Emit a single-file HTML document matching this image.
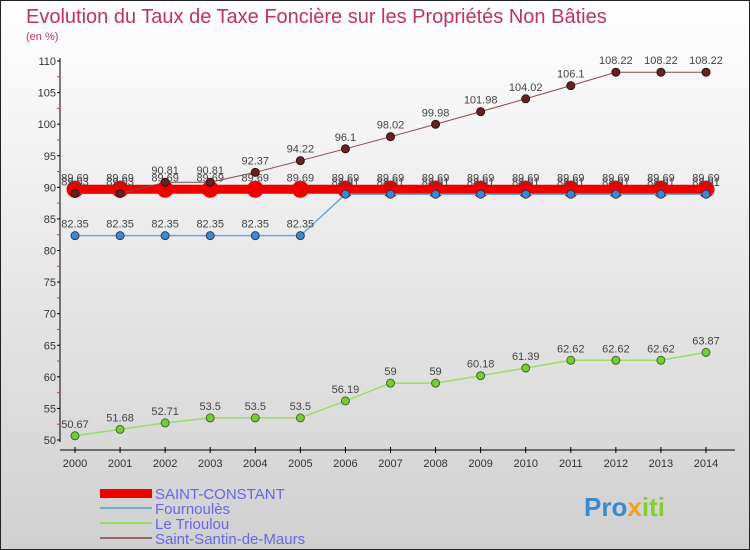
<!DOCTYPE html>
<html><head><meta charset="utf-8">
<style>
body{margin:0;width:750px;height:550px;overflow:hidden;font-family:"Liberation Sans",sans-serif;}
#wrap{position:absolute;left:0;top:0;width:748px;height:548px;border:1px solid #222;background:linear-gradient(#ffffff,#d0d0d0);}
</style></head><body>
<div id="wrap">
<svg id="chart" width="750" height="550" style="position:absolute;left:-1px;top:-1px">
<text x="26" y="23" font-size="20" fill="#c0306a">Evolution du Taux de Taxe Foncière sur les Propriétés Non Bâties</text>
<text x="26" y="40" font-size="11" fill="#c0306a">(en %)</text>
<g id="axes"></g><g id="series"></g>
<g>
<rect x="100" y="489" width="52" height="9" fill="#ee0000"/>
<text x="155" y="499" font-size="15" fill="#6666ee">SAINT-CONSTANT</text>
<rect x="100" y="507" width="52" height="2" fill="#7aaad0"/>
<text x="155" y="514" font-size="15" fill="#6666ee">Fournoulès</text>
<rect x="100" y="522" width="52" height="2" fill="#99dd66"/>
<text x="155" y="529" font-size="15" fill="#6666ee">Le Trioulou</text>
<rect x="100" y="537" width="52" height="2" fill="#996666"/>
<text x="155" y="544" font-size="15" fill="#6666ee">Saint-Santin-de-Maurs</text>
</g>
<g><text x="584" y="516" font-size="26" font-weight="bold" fill="#3a8ad0">Pro<tspan fill="#f0a020">x</tspan><tspan fill="#88cc33">iti</tspan></text></g>
</svg>
</div>
<script>
const years=[2000,2001,2002,2003,2004,2005,2006,2007,2008,2009,2010,2011,2012,2013,2014];
const yTicks=[50,55,60,65,70,75,80,85,90,95,100,105,110];
const saintConstant=[89.69,89.69,89.69,89.69,89.69,89.69,89.69,89.69,89.69,89.69,89.69,89.69,89.69,89.69,89.69];
const fournoules=[82.35,82.35,82.35,82.35,82.35,82.35,88.91,88.91,88.91,88.91,88.91,88.91,88.91,88.91,88.91];
const trioulou=[50.67,51.68,52.71,53.5,53.5,53.5,56.19,59,59,60.18,61.39,62.62,62.62,62.62,63.87];
const saintSantin=[89.03,89.03,90.81,90.81,92.37,94.22,96.1,98.02,99.98,101.98,104.02,106.1,108.22,108.22,108.22];
const NS="http://www.w3.org/2000/svg";
const X=i=>75+i*(706-75)/(years.length-1);
const Y=v=>440-(v-50)*(440-61)/60;
function mk(t,a,p){const e=document.createElementNS(NS,t);for(const k in a)e.setAttribute(k,a[k]);if(p)p.appendChild(e);return e;}
const ax=document.getElementById('axes');
const yl=mk('line',{x1:60,y1:58,x2:60,y2:442,stroke:'#000','stroke-width':1},ax);


yTicks.forEach((t,i)=>{
 mk('line',{x1:57,x2:60,y1:Y(t),y2:Y(t),stroke:'#000'},ax);
 if(i<yTicks.length-1)mk('line',{x1:57,x2:60,y1:Y(t+2.5),y2:Y(t+2.5),stroke:'#e33'},ax);
 const tx=mk('text',{x:56,y:Y(t)+4,'text-anchor':'end','font-size':11,fill:'#333'},ax);tx.textContent=t;
 
 
});
const xl=mk('line',{x1:60,y1:450,x2:735,y2:450,stroke:'#000'},ax);


years.forEach((y,i)=>{
 mk('line',{x1:X(i),x2:X(i),y1:447,y2:453,stroke:'#000'},ax);
 const tx=mk('text',{x:X(i),y:467,'text-anchor':'middle','font-size':11,fill:'#333'},ax);tx.textContent=y;
 
 
});
const sg=document.getElementById('series');
function series(name,data,color,lw,r,dot,dotStroke,lblOff){
 const g=mk('g',{},sg);
 
 
 mk('polyline',{points:data.map((v,i)=>X(i)+','+Y(v)).join(' '),fill:'none',stroke:color,'stroke-width':lw},g);
 data.forEach((v,i)=>{
  const c=mk('circle',{cx:X(i),cy:Y(v),r:r,fill:dot,stroke:dotStroke,'stroke-width':1},g);
  
  
  const t=mk('text',{x:X(i),y:Y(v)+lblOff,'text-anchor':'middle','font-size':11,fill:'#444'},g);t.textContent=v;
  
  
 });
}
series('saint-constant',saintConstant,'#ee0000',9,8,'#ee0000','#ee0000',-8);
series('fournoules',fournoules,'#6fa6d6',1.5,4,'#3a8ad0','#336',-8);
series('le-trioulou',trioulou,'#99dd66',1.5,4,'#77cc33','#463',-8);
series('saint-santin',saintSantin,'#8a4a4a',1,4,'#662222','#311',-8);
</script>
</body></html>
